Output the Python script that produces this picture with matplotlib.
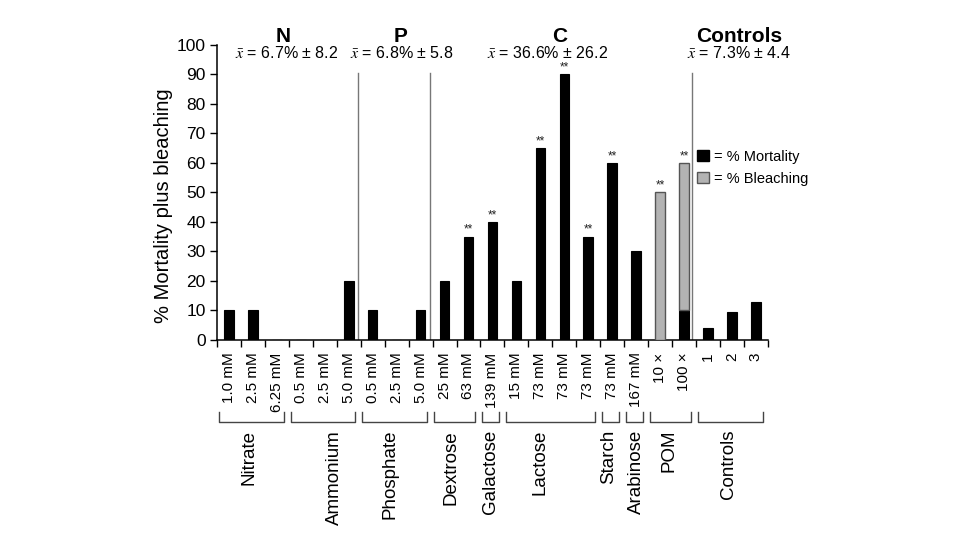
import matplotlib
matplotlib.use("Agg")
import matplotlib.pyplot as plt
from matplotlib.patches import Patch

plt.rcParams['font.family'] = ['Liberation Sans', 'DejaVu Sans']
plt.rcParams['mathtext.fontset'] = 'stix'

# data
tick_labels = ["1.0 mM", "2.5 mM", "6.25 mM",
               "0.5 mM", "2.5 mM", "5.0 mM",
               "0.5 mM", "2.5 mM", "5.0 mM",
               "25 mM", "63 mM", "139 mM",
               "15 mM", "73 mM", "73 mM", "73 mM",
               "73 mM", "167 mM", "10 ×", "100 ×",
               "1", "2", "3"]
mortality = [10, 10, 0, 0, 0, 20, 10, 0, 10, 20, 35, 40,
             20, 65, 90, 35, 60, 30, 0, 10, 4, 9.5, 13]
bleaching = [0, 0, 0, 0, 0, 0, 0, 0, 0, 0, 0, 0,
             0, 0, 0, 0, 0, 0, 50, 50, 0, 0, 0]
signif = [0, 0, 0, 0, 0, 0, 0, 0, 0, 0, 1, 1,
          0, 1, 1, 1, 1, 0, 1, 1, 0, 0, 0]

groups = ["Nitrate", "Ammonium", "Phosphate", "Dextrose", "Galactose",
          "Lactose", "Starch", "Arabinose", "POM", "Controls"]
group_sizes = [3, 3, 3, 2, 1, 4, 1, 1, 2, 3]

nutrients = ["N", "P", "C", "Controls"]
nutrient_means = ["$\\bar{x}$ = 6.7% ± 8.2", "$\\bar{x}$ = 6.8% ± 5.8",
                  "$\\bar{x}$ = 36.6% ± 26.2", "$\\bar{x}$ = 7.3% ± 4.4"]

# layout stuff (not data)
group_label_x = [0.85, 4.4, 6.72, 9.27, 10.9, 13.0, 15.86, 17.0, 18.38, 20.84]
nutrient_x = [2.26, 7.18, 13.8, 21.3]
mean_x = [2.42, 7.23, 13.3, 21.3]
sep_x = [5.39, 8.40, 19.34]

fig = plt.figure(figsize=(9.8, 5.6), dpi=100)
ax = fig.add_axes([0.2214, 0.3929, 0.5622, 0.5268])

x = list(range(len(tick_labels)))
gray = '#b3b3b3'
ax.bar(x, mortality, width=0.4, color='black', edgecolor='black', lw=0.8, zorder=3)
ax.bar(x, bleaching, width=0.4, bottom=mortality, color=gray,
       edgecolor=['#555555' if b > 0 else 'none' for b in bleaching], lw=1.0, zorder=3)

for i in x:
    if signif[i]:
        ax.text(i, mortality[i] + bleaching[i] + 0.3, "**", ha='center', va='bottom',
                fontsize=8.5, color='#222222')

for sx in sep_x:
    ax.plot([sx, sx], [0, 90.5], color='#777777', lw=1.0, zorder=2)

ax.set_xlim(-0.5, len(x) - 0.5)
ax.set_ylim(0, 100)
ax.set_yticks(range(0, 101, 10))
ax.tick_params(axis='y', labelsize=12.5, length=5, width=1, direction='out', pad=3)
ax.set_xticks(x)
ax.set_xticklabels(tick_labels, rotation=90, fontsize=11, va='top')
ax.set_xticks([i - 0.5 for i in range(len(x) + 1)], minor=True)
ax.tick_params(axis='x', which='major', length=0, pad=9)
ax.tick_params(axis='x', which='minor', length=5, width=1, direction='out')

for s in ['top', 'right']:
    ax.spines[s].set_visible(False)
for s in ['left', 'bottom']:
    ax.spines[s].set_linewidth(1.1)

ax.set_ylabel("% Mortality plus bleaching", fontsize=14.5)
ax.yaxis.set_label_coords(-0.08, 0.454)

# brackets and group names under the axis
trans = ax.get_xaxis_transform()
start = 0
for g, n, lx in zip(groups, group_sizes, group_label_x):
    x0 = start - 0.43
    x1 = start + n - 1 + 0.28
    ax.plot([x0, x0, x1, x1], [-0.245, -0.278, -0.278, -0.245], transform=trans,
            color='#444444', lw=1.0, clip_on=False)
    ax.text(lx, -0.305, g, transform=trans, rotation=90, ha='center', va='top',
            fontsize=13.5)
    start += n

# nutrient headers
for name, nx, m, mx in zip(nutrients, nutrient_x, nutrient_means, mean_x):
    ax.text(nx, 103.0, name, ha='center', va='center', fontsize=15, fontweight='bold',
            clip_on=False)
    ax.text(mx, 97.2, m, ha='center', va='center', fontsize=11.5, clip_on=False)

handles = [Patch(facecolor='black', edgecolor='black'),
           Patch(facecolor=gray, edgecolor='#555555')]
ax.legend(handles, ["= % Mortality", "= % Bleaching"], loc='upper left',
          bbox_to_anchor=(0.872, 0.645), frameon=False, fontsize=10.5,
          handlelength=0.8, handleheight=0.8, handletextpad=0.35,
          borderpad=0, borderaxespad=0, labelspacing=0.55)

fig.savefig("out.png", dpi=100)
